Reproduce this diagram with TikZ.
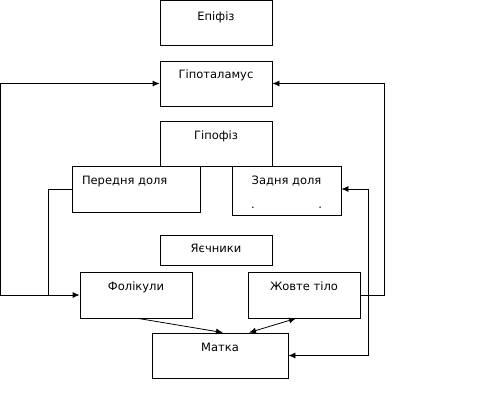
\documentclass[tikz,border=0pt]{standalone}
\usepackage{fontspec}
\setmainfont{DejaVu Sans}
\usetikzlibrary{arrows.meta}
\begin{document}
\begin{tikzpicture}[x=1pt,y=-1pt,>={Latex[length=7pt,width=6pt]},line width=0.8pt,
    font=\fontsize{11.5pt}{13pt}\selectfont,
    box/.style={draw,rectangle,inner sep=0pt,minimum width=112pt,minimum height=45pt},
    lbl/.style={anchor=base,yshift=-19pt,inner sep=0pt}]
    \useasboundingbox (0,0) rectangle (482,404);
    % boxes
    \node[box,minimum height=44.5pt,label={[lbl,yshift=-1pt]north:Епіфіз}] (epi) at (216,22.75) {};
    \node[box,label={[lbl,yshift=1pt]north:Гіпоталамус}] (hypo) at (216,83.5) {};
    \node[box,label={[lbl]north:Гіпофіз}] (hyp) at (216,143.5) {};
    \node[box,minimum width=128pt,minimum height=46pt,
        label={[lbl,anchor=base west,xshift=10pt]north west:Передня доля}] (front) at (136,189) {};
    \node[box,minimum width=109pt,minimum height=49pt,label={[lbl]north:Задня доля},
        label={[lbl,anchor=base west,xshift=19pt,yshift=-24pt]north west:.},
        label={[lbl,anchor=base east,xshift=-19pt,yshift=-24pt]north east:.}] (back) at (286.5,190.5) {};
    \node[box,minimum height=30pt,label={[lbl,yshift=1pt]north:Яєчники}] (ovar) at (216,250) {};
    \node[box,minimum height=46pt,label={[lbl]north:Фолікули}] (foll) at (136,295) {};
    \node[box,minimum height=46pt,label={[lbl]north:Жовте тіло}] (corp) at (304,295) {};
    \node[box,minimum width=136pt,label={[lbl]north:Матка}] (uter) at (220,355.5) {};
    % corners of the feedback lines
    \coordinate (lj) at (48,295);
    \coordinate (lc) at (0.5,295);
    \coordinate (rc) at (384,295);
    \coordinate (bc) at (368,189);
    \draw[->] (front.west) -| (lj) -- (foll.west);
    \draw[->] (lj) -- (lc) |- (hypo.west);
    \draw[->] (corp.east) -- (rc) |- (hypo.east);
    \draw[<->] (bc -| back.east) -- (bc) |- (uter.east);
    \draw[->] ([xshift=2pt]foll.south) -- ([xshift=3pt]uter.north);
    \draw[<->] ([xshift=29pt]uter.north) -- ([xshift=-8pt]corp.south);
\end{tikzpicture}
\end{document}
